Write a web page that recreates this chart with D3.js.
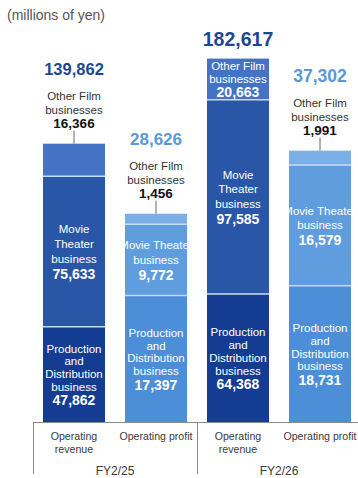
<!DOCTYPE html>
<html>
<head>
<meta charset="utf-8">
<script src="https://cdn.jsdelivr.net/npm/d3@7"></script>
<style>
  html, body { margin: 0; padding: 0; background: #fff; }
  svg { display: block; font-family: "Liberation Sans", Arial, sans-serif; }
</style>
</head>
<body>
<svg id="chart" width="358" height="478"></svg>
<script>
// Fiscal years and measures shown for each year
const periods = ["FY2/25", "FY2/26"];
const measures = ["Operating revenue", "Operating profit"];
const measureLines = [["Operating", "revenue"], ["Operating profit"]];

// Segments, stacked bottom to top
const segments = ["Production and Distribution business", "Movie Theater business", "Other Film businesses"];

// Segment values (millions of yen), order follows `segments`
const revenueFY25 = [47862, 75633, 16366];
const revenueFY26 = [64368, 97585, 20663];
const profitFY25 = [17397, 9772, 1456];
const profitFY26 = [18731, 16579, 1991];

// Stated totals
const revenueTotals = [139862, 182617];
const profitTotals = [28626, 37302];

// ---- layout ----
const svg = d3.select("#chart");
const baseY = 422;

const bars = [
  { key: "rev25", period: 0, measure: 0, values: revenueFY25, total: revenueTotals[0] },
  { key: "pro25", period: 0, measure: 1, values: profitFY25, total: profitTotals[0] },
  { key: "rev26", period: 1, measure: 0, values: revenueFY26, total: revenueTotals[1] },
  { key: "pro26", period: 1, measure: 1, values: profitFY26, total: profitTotals[1] }
];

const x = d3.scaleBand()
  .domain(bars.map(d => d.key))
  .range([33, 361])
  .paddingInner(0.244)
  .paddingOuter(0.122);

// Revenue and profit are each drawn on their own scale
const yRev = d3.scaleLinear().domain([0, 200000]).range([baseY, 24]);
const yPro = d3.scaleLinear().domain([0, 40000]).range([baseY, 131]);
const yFor = b => (b.measure === 0 ? yRev : yPro);

const colors = [
  ["#143C92", "#2A56A8", "#4472C4"],   // revenue
  ["#4C8ED8", "#5F9DDF", "#7BAFE6"]    // profit
];
const totalColors = ["#1E4791", "#5A98D6"];
const totalSizes = { rev25: 16.5, pro25: 17, rev26: 19.5, pro26: 17.5 };

const fmt = d3.format(",");

// title
svg.append("text")
  .attr("x", 7).attr("y", 20)
  .attr("font-size", 14).attr("fill", "#555")
  .text("(millions of yen)");

// ---- bars ----
bars.forEach(b => {
  const y = yFor(b);
  const stack = d3.stack().keys(d3.range(3))([b.values]);
  const x0 = x(b.key), w = x.bandwidth(), cx = x0 + w / 2;
  const g = svg.append("g");

  g.selectAll("rect")
    .data(stack)
    .join("rect")
    .attr("x", x0)
    .attr("width", w)
    .attr("y", s => y(s[0][1]))
    .attr("height", s => y(s[0][0]) - y(s[0][1]))
    .attr("fill", (s, i) => colors[b.measure][i]);

  // light separators between segments
  stack.slice(1).forEach(s => {
    g.append("line")
      .attr("x1", x0).attr("x2", x0 + w)
      .attr("y1", y(s[0][0])).attr("y2", y(s[0][0]))
      .attr("stroke", "#C9DBF1").attr("stroke-width", 1.5);
  });

  const topY = y(stack[2][0][1]);

  // inner labels for production and movie theater segments
  const innerLines = [
    ["Production", "and", "Distribution", "business"],
    b.measure === 0 ? ["Movie", "Theater", "business"] : ["Movie Theater", "business"]
  ];
  [0, 1].forEach(i => {
    const s = stack[i][0];
    const lh = i === 0 ? 12.8 : 14.6;
    drawBlock(g, cx, y(s[0]), y(s[1]), innerLines[i], fmt(b.values[i]), lh, "#fff", "#fff");
  });

  // other film segment: inside when tall enough, otherwise above with a leader
  const other = stack[2][0];
  const segH = y(other[0]) - y(other[1]);
  if (segH > 36) {
    drawBlock(g, cx, y(other[0]), y(other[1]), ["Other Film", "businesses"], fmt(b.values[2]), 12.5, "#fff", "#fff");
    g.append("text")
      .attr("x", cx).attr("y", topY - 13)
      .attr("text-anchor", "middle")
      .attr("font-size", totalSizes[b.key]).attr("font-weight", "bold")
      .attr("fill", totalColors[b.measure])
      .text(fmt(b.total));
  } else {
    g.append("line")
      .attr("x1", cx).attr("x2", cx)
      .attr("y1", topY - 13).attr("y2", topY)
      .attr("stroke", "#666").attr("stroke-width", 1);
    const t = g.append("text").attr("text-anchor", "middle");
    t.append("tspan").attr("x", cx).attr("y", topY - 44)
      .attr("font-size", 11.5).attr("fill", "#333").text("Other Film");
    t.append("tspan").attr("x", cx).attr("y", topY - 30)
      .attr("font-size", 11.5).attr("fill", "#333").text("businesses");
    t.append("tspan").attr("x", cx).attr("y", topY - 16)
      .attr("font-size", 13.5).attr("font-weight", "bold").attr("fill", "#111")
      .text(fmt(b.values[2]));
    g.append("text")
      .attr("x", cx).attr("y", topY - 69)
      .attr("text-anchor", "middle")
      .attr("font-size", totalSizes[b.key]).attr("font-weight", "bold")
      .attr("fill", totalColors[b.measure])
      .text(fmt(b.total));
  }
});

// centred text block: name lines followed by a bold value
function drawBlock(g, cx, yBottom, yTop, lines, value, lh, color, valueColor) {
  const numGap = lh + 1.5;
  const blockH = 9 + lh * (lines.length - 1) + numGap;
  const firstBase = (yTop + yBottom) / 2 - blockH / 2 + 9;
  const t = g.append("text").attr("text-anchor", "middle");
  lines.forEach((ln, i) => {
    t.append("tspan").attr("x", cx).attr("y", firstBase + i * lh)
      .attr("font-size", 11.5).attr("fill", color).text(ln);
  });
  t.append("tspan").attr("x", cx)
    .attr("y", firstBase + lh * (lines.length - 1) + numGap)
    .attr("font-size", 14).attr("font-weight", "bold").attr("fill", valueColor)
    .text(value);
}

// ---- category axis ----
const axis = svg.append("g").attr("stroke", "#8a8a8a").attr("stroke-width", 1);
const [r0, r1] = x.range();
axis.append("line").attr("x1", r0).attr("x2", r1).attr("y1", baseY + 0.5).attr("y2", baseY + 0.5);
const step = x.step();
[0, 1, 2].forEach(k => {
  const xx = Math.round(r0 + k * 2 * step) + 0.5;
  axis.append("line").attr("x1", xx).attr("x2", xx).attr("y1", baseY).attr("y2", 474);
});

bars.forEach(b => {
  const cx = x(b.key) + x.bandwidth() / 2;
  const t = svg.append("text").attr("text-anchor", "middle")
    .attr("font-size", 10.6).attr("fill", "#3a3a3a");
  measureLines[b.measure].forEach((ln, i) => {
    t.append("tspan").attr("x", cx).attr("y", 440 + i * 12.5).text(ln);
  });
});

periods.forEach((p, k) => {
  const cx = r0 + (k * 2 + 1) * step;
  svg.append("text")
    .attr("x", cx).attr("y", 475)
    .attr("text-anchor", "middle")
    .attr("font-size", 12).attr("fill", "#3a3a3a")
    .text(p);
});
</script>
</body>
</html>
